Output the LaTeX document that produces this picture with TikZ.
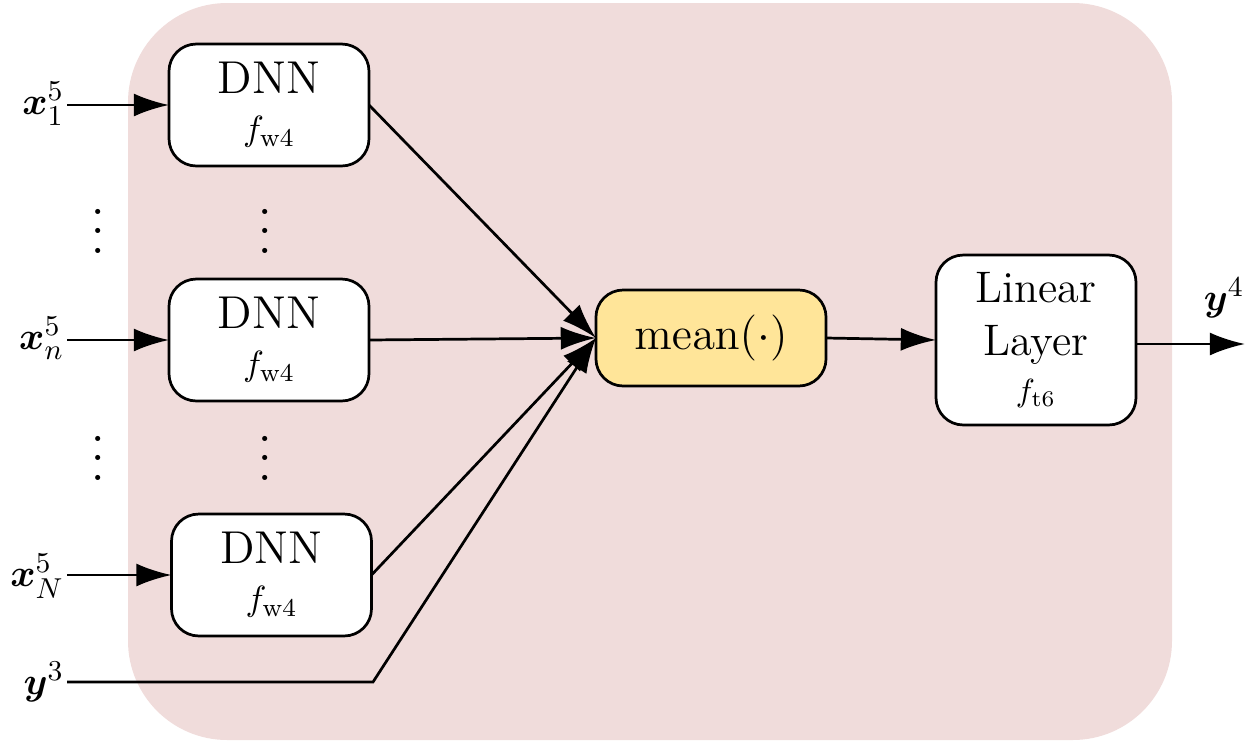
\documentclass[tikz,border=0pt]{standalone}
\usepackage{amsmath}
\usepackage{bm}
\usetikzlibrary{arrows.meta}
\definecolor{bgpink}{RGB}{240,220,219}
\definecolor{meanyellow}{RGB}{255,229,153}
\begin{document}
\begin{tikzpicture}[x=0.3125pt,y=-0.3125pt,
  every node/.style={inner sep=0pt, outer sep=0pt},
  box/.style={draw, line width=0.85pt, rounded corners=8.5pt, fill=white, align=center},
  dnnbox/.style={box, minimum width=62.5pt, minimum height=38.1pt, font=\fontsize{14.4}{17}\selectfont},
  conn/.style={line width=0.85pt, -{Latex[length=11pt,width=7.2pt]}},
  lbl/.style={font=\fontsize{12.5}{15}\selectfont},
  dotsnode/.style={scale=1.5}
]
\useasboundingbox (0,0) rectangle (1260,742);
\fill[bgpink, rounded corners=31pt] (128,3) rectangle (1172,740);

% DNN boxes
\node[dnnbox] (d1) at (269,105) {DNN\\[-2.3pt]{\fontsize{11}{13}\selectfont $f_{\mathrm{w4}}$}};
\node[dnnbox] (d2) at (269,340) {DNN\\[-2.3pt]{\fontsize{11}{13}\selectfont $f_{\mathrm{w4}}$}};
\node[dnnbox] (d3) at (271.5,575) {DNN\\[-2.3pt]{\fontsize{11}{13}\selectfont $f_{\mathrm{w4}}$}};

% mean and linear
\node[box, fill=meanyellow, minimum width=71.9pt, minimum height=30pt, font=\fontsize{13.8}{16}\selectfont] (mean) at (711,338) {$\mathrm{mean}(\cdot)$};
\node[box, minimum width=62.5pt, minimum height=53.1pt, font=\fontsize{13.8}{16.5}\selectfont] (lin) at (1036,340) {Linear\\Layer\\[-2pt]{\fontsize{10}{12}\selectfont $f_{\mathrm{t6}}$}};

% labels
\node[lbl, anchor=east] (x1) at (64,104) {$\bm{x}_1^5$};
\node[lbl, anchor=east] (xn) at (64,338) {$\bm{x}_n^5$};
\node[lbl, anchor=east] (xN) at (64,576) {$\bm{x}_N^5$};
\node[lbl, anchor=east] (y3) at (64,682) {$\bm{y}^3$};
\node[lbl] (y4) at (1224,298) {$\bm{y}^4$};

% dots
\node[dotsnode] (v1) at (98,217) {$\vdots$};
\node[dotsnode] (v2) at (265,217) {$\vdots$};
\node[dotsnode] (v3) at (98,444) {$\vdots$};
\node[dotsnode] (v4) at (265,444) {$\vdots$};

\coordinate (bend) at (373,682);
\coordinate (out) at (1245,344);
\coordinate (lout) at (1136,344);

% connectors
\draw[conn] ([xshift=1pt]x1.east |- d1.west) -- (d1.west);
\draw[conn] ([xshift=1pt]xn.east |- d2.west) -- (d2.west);
\draw[conn] ([xshift=1pt]xN.east |- d3.west) -- (d3.west);
\draw[conn] (d1.east) -- (mean.west);
\draw[conn] (d2.east) -- (mean.west);
\draw[conn] (d3.east) -- (mean.west);
\draw[conn] ([xshift=1pt]y3.east |- bend) -- (bend) -- (mean.west);
\draw[conn] (mean.east) -- (lin.west);
\draw[conn] (lin.east |- lout) -- (out);
\end{tikzpicture}
\end{document}
